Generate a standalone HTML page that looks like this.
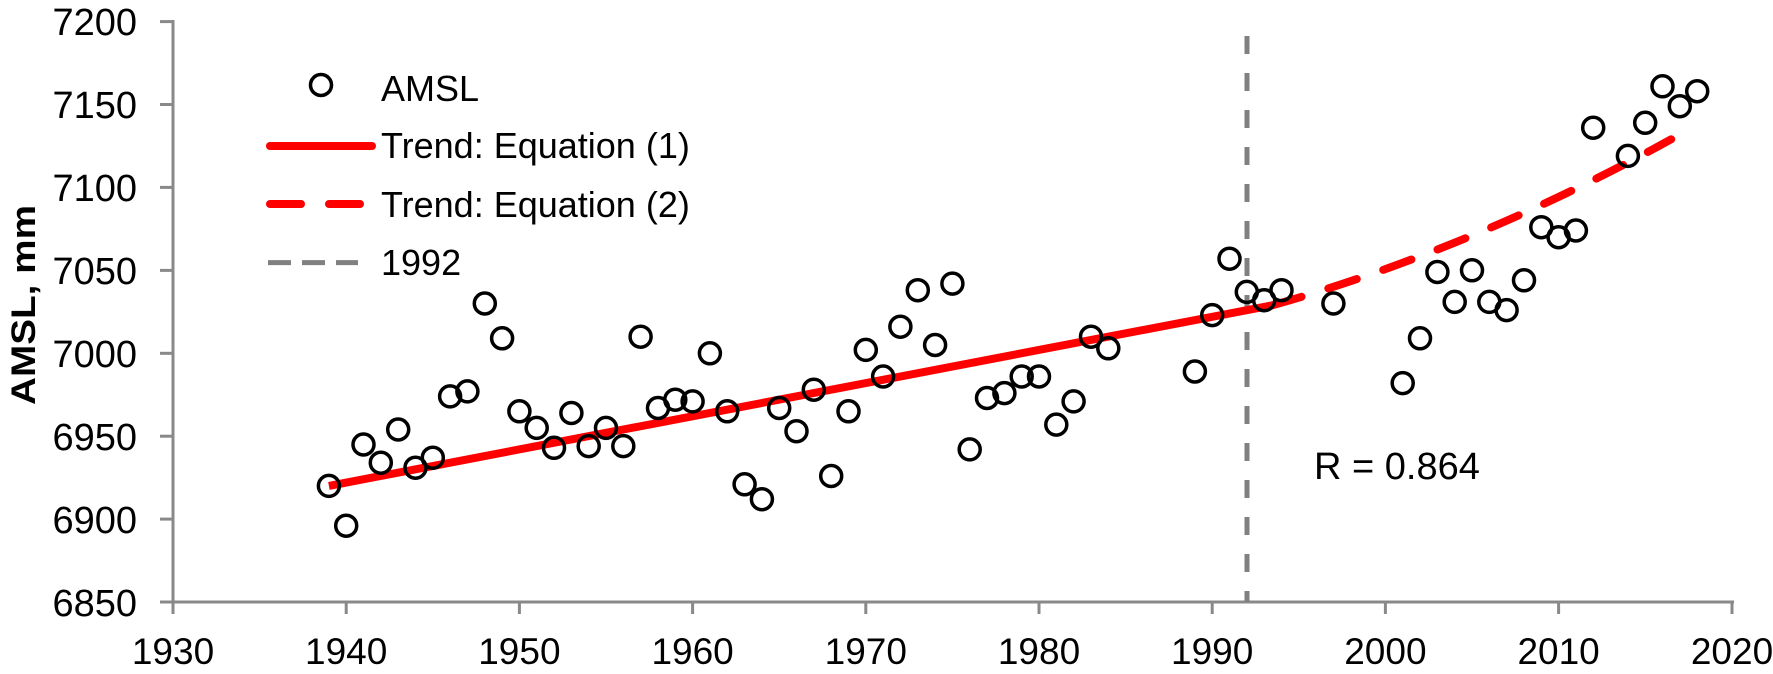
<!DOCTYPE html>
<html><head><meta charset="utf-8"><style>
html,body{margin:0;padding:0;background:#fff;}
svg{display:block;font-family:"Liberation Sans",sans-serif;}
</style></head><body>
<svg id="s" width="1773" height="674" viewBox="0 0 1773 674" xmlns="http://www.w3.org/2000/svg">
<g stroke="#898989" stroke-width="3" fill="none">
<line x1="173" y1="20" x2="173" y2="603"/>
<line x1="171" y1="602" x2="1734" y2="602"/>
<line x1="160" y1="21.6" x2="173" y2="21.6"/>
<line x1="160" y1="104.5" x2="173" y2="104.5"/>
<line x1="160" y1="187.4" x2="173" y2="187.4"/>
<line x1="160" y1="270.4" x2="173" y2="270.4"/>
<line x1="160" y1="353.3" x2="173" y2="353.3"/>
<line x1="160" y1="436.2" x2="173" y2="436.2"/>
<line x1="160" y1="519.1" x2="173" y2="519.1"/>
<line x1="160" y1="602" x2="173" y2="602"/>
<line x1="173" y1="602" x2="173" y2="614"/>
<line x1="346.2" y1="602" x2="346.2" y2="614"/>
<line x1="519.4" y1="602" x2="519.4" y2="614"/>
<line x1="692.6" y1="602" x2="692.6" y2="614"/>
<line x1="865.8" y1="602" x2="865.8" y2="614"/>
<line x1="1039" y1="602" x2="1039" y2="614"/>
<line x1="1212.2" y1="602" x2="1212.2" y2="614"/>
<line x1="1385.4" y1="602" x2="1385.4" y2="614"/>
<line x1="1558.6" y1="602" x2="1558.6" y2="614"/>
<line x1="1732" y1="602" x2="1732" y2="614"/>
</g>
<g font-size="38" fill="#000" text-anchor="end">
<text x="137" y="35">7200</text>
<text x="137" y="118">7150</text>
<text x="137" y="201">7100</text>
<text x="137" y="284">7050</text>
<text x="137" y="367">7000</text>
<text x="137" y="450">6950</text>
<text x="137" y="533">6900</text>
<text x="137" y="616">6850</text>
</g>
<g font-size="37" fill="#000" text-anchor="middle">
<text x="173" y="664">1930</text>
<text x="346.2" y="664">1940</text>
<text x="519.4" y="664">1950</text>
<text x="692.6" y="664">1960</text>
<text x="865.8" y="664">1970</text>
<text x="1039" y="664">1980</text>
<text x="1212.2" y="664">1990</text>
<text x="1385.4" y="664">2000</text>
<text x="1558.6" y="664">2010</text>
<text x="1732" y="664">2020</text>
</g>
<text transform="translate(35,305) rotate(-90)" font-size="34" font-weight="bold" text-anchor="middle" textLength="200" lengthAdjust="spacingAndGlyphs">AMSL, mm</text>
<line x1="1247" y1="36" x2="1247" y2="602" stroke="#808080" stroke-width="5" stroke-dasharray="18 19"/>
<line x1="328.9" y1="485.9" x2="1272.8" y2="305.2" stroke="#ff0000" stroke-width="8"/>
<path d="M1272.8,305.2 Q1472,248.8 1671.2,139.3" fill="none" stroke="#ff0000" stroke-width="8" stroke-dasharray="30 28" stroke-linecap="round"/>
<g id="pts" fill="none" stroke="#000" stroke-width="3.5"></g>
<text x="1314" y="479" font-size="38">R = 0.864</text>
<circle cx="321" cy="85" r="10.5" fill="none" stroke="#000" stroke-width="3.5"/>
<line x1="270" y1="146" x2="372" y2="146" stroke="#ff0000" stroke-width="8" stroke-linecap="round"/>
<line x1="270" y1="204" x2="372" y2="204" stroke="#ff0000" stroke-width="8" stroke-dasharray="31 28" stroke-linecap="round"/>
<line x1="268" y1="262.6" x2="358" y2="262.6" stroke="#808080" stroke-width="5" stroke-dasharray="23 11"/>
<g font-size="36" fill="#000">
<text x="381" y="101">AMSL</text>
<text x="381" y="158">Trend: Equation (1)</text>
<text x="381" y="217">Trend: Equation (2)</text>
<text x="381" y="275">1992</text>
</g>
</svg>
<script>
var d=[[1939,6920],[1940,6896],[1941,6945],[1942,6934],[1943,6954],[1944,6931],[1945,6937],[1946,6974],[1947,6977],[1948,7030],[1949,7009],[1950,6965],[1951,6955],[1952,6943],[1953,6964],[1954,6944],[1955,6955],[1956,6944],[1957,7010],[1958,6967],[1959,6972],[1960,6971],[1961,7000],[1962,6965],[1963,6921],[1964,6912],[1965,6967],[1966,6953],[1967,6978],[1968,6926],[1969,6965],[1970,7002],[1971,6986],[1972,7016],[1973,7038],[1974,7005],[1975,7042],[1976,6942],[1977,6973],[1978,6976],[1979,6986],[1980,6986],[1981,6957],[1982,6971],[1983,7010],[1984,7003],[1989,6989],[1990,7023],[1991,7057],[1992,7037],[1993,7032],[1994,7038],[1997,7030],[2001,6982],[2002,7009],[2003,7049],[2004,7031],[2005,7050],[2006,7031],[2007,7026],[2008,7044],[2009,7076],[2010,7070],[2011,7074],[2012,7136],[2014,7119],[2015,7139],[2016,7161],[2017,7149],[2018,7158]];
var g=document.getElementById('pts'),h='';
d.forEach(function(p){var x=173+(p[0]-1930)*17.32,y=21.6+(7200-p[1])*1.6583;h+='<circle cx="'+x.toFixed(1)+'" cy="'+y.toFixed(1)+'" r="10.5"/>';});
g.innerHTML=h;
</script>
</body></html>
